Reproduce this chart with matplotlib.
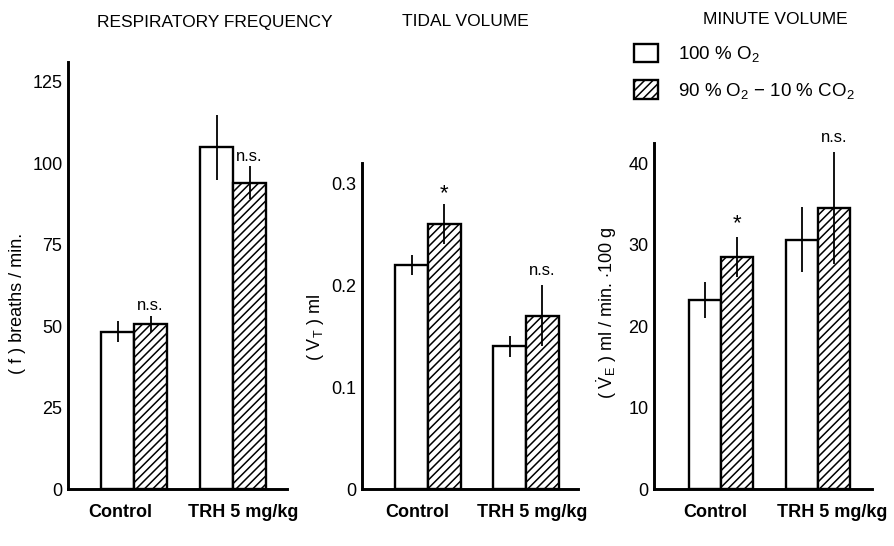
import matplotlib
matplotlib.use('Agg')
import matplotlib.pyplot as plt
import numpy as np

plt.rcParams['font.family'] = ['Liberation Sans', 'DejaVu Sans']
plt.rcParams['mathtext.fontset'] = 'custom'
plt.rcParams['mathtext.rm'] = 'Liberation Sans'
plt.rcParams['mathtext.it'] = 'Liberation Sans'
plt.rcParams['hatch.linewidth'] = 1.1
plt.rcParams['font.size'] = 12

# Data
groups = ['Control', 'TRH 5 mg/kg']
series = ['100 % O$_2$', '90 % O$_2$ $-$ 10 % CO$_2$']

freq_o2 = [48.3, 104.8]
freq_o2_err = [3.3, 10.0]
freq_co2 = [50.6, 94.0]
freq_co2_err = [2.5, 5.0]
freq_sig = ['n.s.', 'n.s.']

vt_o2 = [0.22, 0.14]
vt_o2_err = [0.01, 0.01]
vt_co2 = [0.26, 0.17]
vt_co2_err = [0.02, 0.03]
vt_sig = ['*', 'n.s.']

ve_o2 = [23.2, 30.6]
ve_o2_err = [2.2, 4.0]
ve_co2 = [28.5, 34.5]
ve_co2_err = [2.5, 6.9]
ve_sig = ['*', 'n.s.']

titles = ['RESPIRATORY FREQUENCY', 'TIDAL VOLUME', 'MINUTE VOLUME']
ylabels = ['( f ) breaths / min.', '( V$_T$ ) ml',
           r'( $\mathregular{\dot{V}_E}$ ) ml / min. $\cdot$100 g']
yticks = [[0, 25, 50, 75, 100, 125], [0, 0.1, 0.2, 0.3], [0, 10, 20, 30, 40]]
yticklabels = [['0', '25', '50', '75', '100', '125'], ['0', '0.1', '0.2', '0.3'],
               ['0', '10', '20', '30', '40']]

W, H = 895, 546
fig = plt.figure(figsize=(W / 100, H / 100), dpi=100)

def rect(x0, x1, ytop, ybot):
    return [x0 / W, 1 - ybot / H, (x1 - x0) / W, (ybot - ytop) / H]

# axes boxes in pixels, x limits, y limits
boxes = [rect(68, 287, 62, 489), rect(362, 578, 163, 489), rect(654, 872, 143, 489)]
xlims = [(-0.667, 1.545), (-0.673, 1.53), (-0.69, 1.557)]
ylims = [(0, 131), (0, 0.32), (0, 42.5)]
title_x = [215, 465, 775]
title_y = [22, 22, 20]
ylabel_pos = [(18, 303), (315, 327), (607, 313)]
sig_offsets = [[2, 2], [0, 5], [2, 5]]
# group label shift from group centre, in pixels
label_shift = [[-14, 10], [-11, 6], [-6, 14]]

panels = [
    (freq_o2, freq_o2_err, freq_co2, freq_co2_err, freq_sig),
    (vt_o2, vt_o2_err, vt_co2, vt_co2_err, vt_sig),
    (ve_o2, ve_o2_err, ve_co2, ve_co2_err, ve_sig),
]

x = np.arange(len(groups))
w = 0.333
handles = None
for i, (o2, o2e, co2, co2e, sig) in enumerate(panels):
    ax = fig.add_axes(boxes[i])
    b1 = ax.bar(x - w / 2, o2, w, color='white', edgecolor='black', linewidth=1.7, zorder=2)
    b2 = ax.bar(x + w / 2, co2, w, color='white', edgecolor='black', linewidth=1.7,
                hatch='////', zorder=2)
    ax.errorbar(x - w / 2, o2, yerr=o2e, fmt='none', ecolor='black', elinewidth=1.3,
                capsize=0, zorder=3)
    ax.errorbar(x + w / 2, co2, yerr=co2e, fmt='none', ecolor='black', elinewidth=1.3,
                capsize=0, zorder=3)
    for j in range(len(groups)):
        fs = 16 if sig[j] == '*' else 12
        ax.annotate(sig[j], (x[j] + w / 2, co2[j] + co2e[j]), xytext=(0, sig_offsets[i][j]),
                    textcoords='offset points', ha='center', va='bottom', fontsize=fs,
                    annotation_clip=False)
    ax.set_xlim(*xlims[i])
    ax.set_ylim(*ylims[i])
    ax.set_yticks(yticks[i])
    ax.set_yticklabels(yticklabels[i])
    ax.set_xticks(x + np.array(label_shift[i]) / 98.0)
    ax.set_xticklabels(groups, fontweight='bold', fontsize=14)
    ax.tick_params(length=0, labelsize=13)
    ax.tick_params(axis='y', pad=4)
    ax.tick_params(axis='x', pad=11)
    for s in ['top', 'right']:
        ax.spines[s].set_visible(False)
    for s in ['left', 'bottom']:
        ax.spines[s].set_linewidth(2.1)
    ax.patch.set_alpha(0)
    fig.text(title_x[i] / W, 1 - title_y[i] / H, titles[i], ha='center', va='center',
             fontsize=12.5)
    fig.text(ylabel_pos[i][0] / W, 1 - ylabel_pos[i][1] / H, ylabels[i], rotation=90,
             ha='center', va='center', fontsize=13)
    handles = [b1, b2]

fig.legend(handles, series, loc='upper left', bbox_to_anchor=(626 / W, 1 - 36 / H),
           frameon=False, handlelength=1.3, handleheight=1.15, labelspacing=0.85,
           handletextpad=1.1, fontsize=13.5, borderaxespad=0)

fig.savefig('out.png', dpi=100)
